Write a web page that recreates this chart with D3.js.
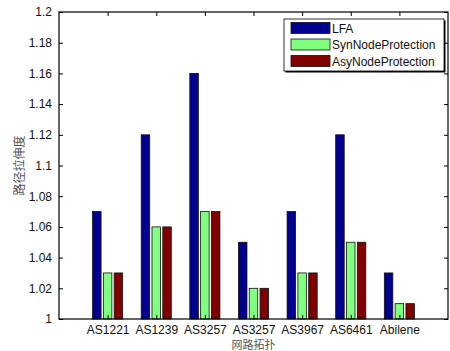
<!DOCTYPE html>
<html>
<head>
<meta charset="utf-8">
<script src="https://cdn.jsdelivr.net/npm/d3@7"></script>
<style>
  body { margin: 0; background: #fff; }
  svg text { font-family: "Liberation Sans", Arial, sans-serif; }
</style>
</head>
<body>
<svg id="chart" width="450" height="351"></svg>
<script>
// data
var topologies = ['AS1221', 'AS1239', 'AS3257', 'AS3257', 'AS3967', 'AS6461', 'Abilene'];
var seriesNames = ['LFA', 'SynNodeProtection', 'AsyNodeProtection'];
var lfa = [1.07, 1.12, 1.16, 1.05, 1.07, 1.12, 1.03];
var synNode = [1.03, 1.06, 1.07, 1.02, 1.03, 1.05, 1.01];
var asyNode = [1.03, 1.06, 1.07, 1.02, 1.03, 1.05, 1.01];
var yTicks = [1, 1.02, 1.04, 1.06, 1.08, 1.1, 1.12, 1.14, 1.16, 1.18, 1.2];
var colors = ['#00008f', '#80ff80', '#800000'];

var series = [lfa, synNode, asyNode];

var svg = d3.select('#chart');
var plot = {left: 59, top: 12, right: 448, bottom: 319};

// x runs 0..8 like matlab's bar() with 7 groups
var x = d3.scaleLinear().domain([0, 8]).range([plot.left, plot.right]);
var y = d3.scaleLinear().domain([1, 1.2]).range([plot.bottom, plot.top]);

var unit = x(1) - x(0);
var barW = unit * 0.175;
var pitch = unit * 0.222;

// bars
series.forEach(function (vals, s) {
    svg.append('g')
        .selectAll('rect')
        .data(vals)
        .enter().append('rect')
        .attr('x', function (d, i) { return x(i + 1) + (s - 1) * pitch - barW / 2; })
        .attr('y', function (d) { return y(d); })
        .attr('width', barW)
        .attr('height', function (d) { return y(1) - y(d); })
        .attr('fill', colors[s])
        .attr('stroke', '#111')
        .attr('stroke-width', 0.8);
});

// axes, ticks pointing inward
var tickLen = 4;
var axLeft = svg.append('g').attr('transform', 'translate(' + plot.left + ',0)')
    .call(d3.axisLeft(y).tickValues(yTicks).tickSize(-tickLen).tickPadding(7)
        .tickFormat(function (d) { return String(+d.toFixed(2)); }));
var axRight = svg.append('g').attr('transform', 'translate(' + plot.right + ',0)')
    .call(d3.axisRight(y).tickValues(yTicks).tickSize(-tickLen).tickFormat(''));
var axBottom = svg.append('g').attr('transform', 'translate(0,' + plot.bottom + ')')
    .call(d3.axisBottom(x).tickValues(d3.range(1, 8)).tickSize(-tickLen).tickPadding(6)
        .tickFormat(function (d) { return topologies[d - 1]; }));
var axTop = svg.append('g').attr('transform', 'translate(0,' + plot.top + ')')
    .call(d3.axisTop(x).tickValues(d3.range(1, 8)).tickSize(-tickLen).tickFormat(''));

[axLeft, axRight, axBottom, axTop].forEach(function (g) {
    g.select('.domain').remove();
    g.selectAll('line').attr('stroke', '#000');
    g.selectAll('text').attr('font-size', 12).attr('fill', '#111')
        .attr('font-family', '"Liberation Sans", Arial, sans-serif');
});

svg.append('rect')
    .attr('x', plot.left).attr('y', plot.top)
    .attr('width', plot.right - plot.left).attr('height', plot.bottom - plot.top)
    .attr('fill', 'none').attr('stroke', '#000').attr('stroke-width', 1.2);

// axis titles
svg.append('text')
    .attr('x', (plot.left + plot.right) / 2).attr('y', 349)
    .attr('text-anchor', 'middle')
    .attr('font-size', 11).attr('fill', '#555')
    .style('font-family', '"Noto Sans CJK SC", sans-serif')
    .text('网路拓扑');
svg.append('text')
    .attr('transform', 'translate(24,' + (plot.top + plot.bottom) / 2 + ') rotate(-90)')
    .attr('text-anchor', 'middle')
    .attr('font-size', 12).attr('fill', '#555')
    .style('font-family', '"Noto Sans CJK SC", sans-serif')
    .text('路径拉伸度');

// legend
var lg = svg.append('g').attr('transform', 'translate(284,19)');
lg.append('rect').attr('x', 1.5).attr('y', 1.5).attr('width', 160).attr('height', 52)
    .attr('fill', '#000');
lg.append('rect').attr('width', 160).attr('height', 52)
    .attr('fill', '#fff').attr('stroke', '#000').attr('stroke-width', 0.8);
var item = lg.selectAll('.item').data(seriesNames).enter().append('g')
    .attr('transform', function (d, i) { return 'translate(7,' + (3.5 + i * 16.5) + ')'; });
item.append('rect').attr('width', 39).attr('height', 11)
    .attr('fill', function (d, i) { return colors[i]; })
    .attr('stroke', '#111').attr('stroke-width', 0.8);
item.append('text').attr('x', 41).attr('y', 10)
    .attr('font-size', 12).attr('fill', '#111')
    .text(function (d) { return d; });
</script>
</body>
</html>
